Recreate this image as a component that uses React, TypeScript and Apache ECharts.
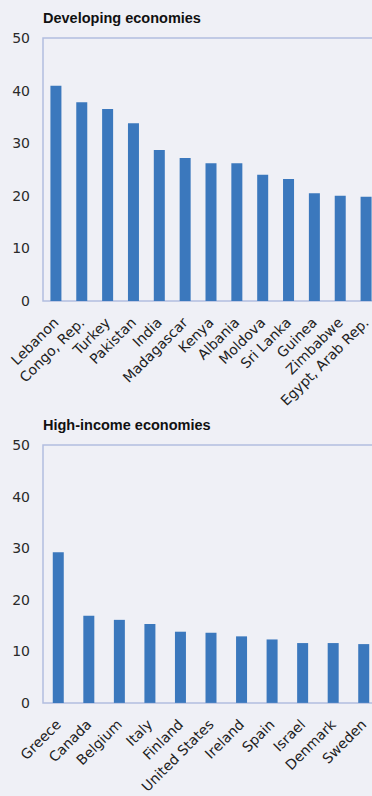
import React, { useEffect, useRef } from "react";
import * as echarts from "echarts";

const devTitle = "Developing economies";
const highTitle = "High-income economies";

const devCountries = [
  "Lebanon", "Congo, Rep.", "Turkey", "Pakistan", "India", "Madagascar", "Kenya",
  "Albania", "Moldova", "Sri Lanka", "Guinea", "Zimbabwe", "Egypt, Arab Rep.",
];
const devValues = [40.9, 37.8, 36.5, 33.8, 28.7, 27.2, 26.2, 26.2, 24.0, 23.2, 20.5, 20.0, 19.8];

const highCountries = [
  "Greece", "Canada", "Belgium", "Italy", "Finland", "United States", "Ireland",
  "Spain", "Israel", "Denmark", "Sweden",
];
const highValues = [29.2, 16.9, 16.1, 15.3, 13.8, 13.6, 12.9, 12.3, 11.6, 11.6, 11.4];

const yMin = 0;
const yMax = 50;
const yInterval = 10;

const BG = "#eff0f6";
const BAR = "#3b78bd";
const BORDER = "#b3bde0";
const FONT = "DejaVu Sans";

export default function App() {
  const ref = useRef<HTMLDivElement>(null);

  useEffect(() => {
    if (!ref.current) return;
    const chart = echarts.init(ref.current, undefined, { renderer: "svg" });

    const yAxisCommon = (gridIndex: number) => ({
      type: "value" as const,
      gridIndex,
      min: yMin,
      max: yMax,
      interval: yInterval,
      axisLine: { show: false },
      axisTick: { show: false },
      splitLine: { show: false },
      axisLabel: {
        color: "#2a2a2a",
        fontSize: 14,
        fontFamily: FONT,
        margin: 13,
        padding: [8, 0, 0, 0],
      },
    });

    const xAxisCommon = (gridIndex: number, data: string[]) => ({
      type: "category" as const,
      gridIndex,
      data,
      axisLine: { show: false },
      axisTick: { show: false },
      axisLabel: {
        rotate: 45,
        interval: 0,
        color: "#222",
        fontSize: 14,
        fontFamily: FONT,
        margin: 19,
      },
    });

    const titleStyle = { fontSize: 14.5, fontWeight: "bold" as const, color: "#111", fontFamily: "Liberation Sans" };

    chart.setOption({
      animation: false,
      backgroundColor: BG,
      title: [
        { text: devTitle, left: 43, top: 10, padding: 0, textStyle: titleStyle },
        { text: highTitle, left: 43, top: 417, padding: 0, textStyle: titleStyle },
      ],
      grid: [
        { left: 43, top: 38, width: 336, height: 263, show: true, borderColor: BORDER, borderWidth: 1.5, backgroundColor: "transparent" },
        { left: 43, top: 445, width: 336, height: 264, show: true, borderColor: BORDER, borderWidth: 1.5, backgroundColor: "transparent" },
      ],
      xAxis: [xAxisCommon(0, devCountries), xAxisCommon(1, highCountries)],
      yAxis: [yAxisCommon(0), yAxisCommon(1)],
      series: [
        {
          type: "bar",
          xAxisIndex: 0,
          yAxisIndex: 0,
          data: devValues,
          barWidth: 11,
          itemStyle: { color: BAR },
        },
        {
          type: "bar",
          xAxisIndex: 1,
          yAxisIndex: 1,
          data: highValues,
          barWidth: 11,
          itemStyle: { color: BAR },
        },
      ],
    });

    return () => chart.dispose();
  }, []);

  return (
    <div
      style={{
        position: "fixed",
        left: 0,
        top: 0,
        width: 372,
        height: 796,
        overflow: "hidden",
        background: BG,
      }}
    >
      <div ref={ref} style={{ width: 392, height: 796 }} />
    </div>
  );
}
